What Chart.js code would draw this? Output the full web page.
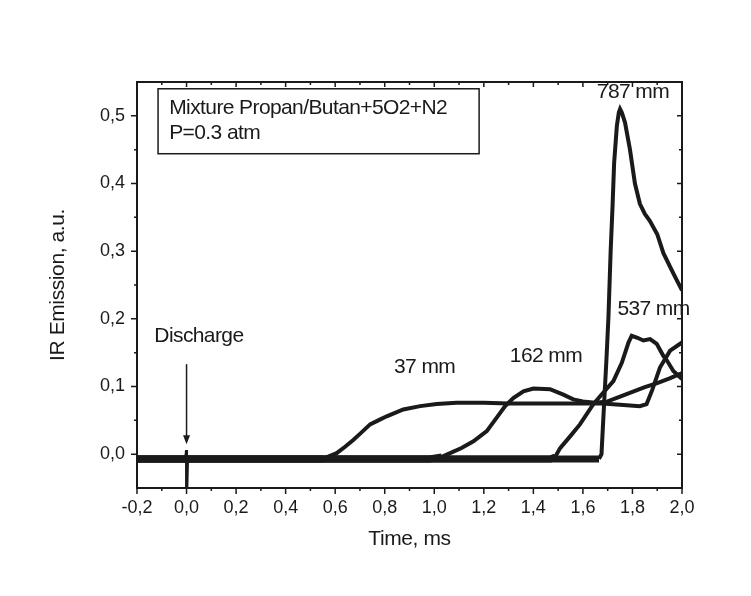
<!DOCTYPE html>
<html>
<head>
<meta charset="utf-8">
<script src="https://cdn.jsdelivr.net/npm/chart.js@4.4.1/dist/chart.umd.min.js"></script>
<style>
  html, body { margin: 0; padding: 0; background: #fff; }
  #wrap { width: 751px; height: 596px; }
</style>
</head>
<body>
<div id="wrap"><canvas id="myChart" width="751" height="596"></canvas></div>
<script>
// IR emission traces, time in ms, emission in a.u.
const time37 = [-0.2, 0.55, 0.606, 0.64, 0.673, 0.70, 0.741, 0.78, 0.808, 0.875, 0.943, 1.01, 1.09, 1.2, 1.3, 1.4, 1.5, 1.6, 1.68, 1.75, 1.83, 1.857, 1.88, 1.911, 1.952, 2.0];
const emission37 = [-0.007, -0.007, 0.0015, 0.011, 0.021, 0.03, 0.044, 0.051, 0.056, 0.066, 0.071, 0.074, 0.076, 0.076, 0.075, 0.075, 0.075, 0.075, 0.075, 0.073, 0.071, 0.074, 0.095, 0.128, 0.153, 0.165];

const time162 = [-0.2, 0.98, 1.03, 1.064, 1.11, 1.158, 1.212, 1.252, 1.286, 1.319, 1.36, 1.40, 1.467, 1.521, 1.561, 1.60, 1.65, 1.70, 1.75, 1.80, 1.85, 1.90, 1.95, 2.0];
const emission162 = [-0.007, -0.007, -0.004, 0.0015, 0.009, 0.019, 0.034, 0.054, 0.071, 0.083, 0.093, 0.097, 0.096, 0.088, 0.081, 0.078, 0.076, 0.078, 0.085, 0.092, 0.099, 0.105, 0.112, 0.12];

const time537 = [-0.2, 1.47, 1.488, 1.508, 1.55, 1.588, 1.642, 1.68, 1.723, 1.757, 1.784, 1.797, 1.82, 1.844, 1.871, 1.898, 1.925, 1.94, 1.965, 2.0];
const emission537 = [-0.007, -0.007, -0.004, 0.009, 0.027, 0.044, 0.074, 0.09, 0.108, 0.135, 0.165, 0.175, 0.172, 0.168, 0.170, 0.163, 0.145, 0.138, 0.123, 0.111];

const time787 = [-0.2, 1.665, 1.675, 1.686, 1.695, 1.703, 1.712, 1.72, 1.726, 1.737, 1.745, 1.75, 1.757, 1.77, 1.79, 1.81, 1.83, 1.85, 1.87, 1.90, 1.925, 1.965, 2.0];
const emission787 = [-0.007, -0.007, 0.0, 0.078, 0.14, 0.202, 0.30, 0.37, 0.43, 0.485, 0.505, 0.51, 0.505, 0.49, 0.45, 0.40, 0.37, 0.355, 0.345, 0.325, 0.297, 0.267, 0.242];

// discharge spike at t = 0
const timeSpike = [-0.004, 0.0, 0.0, 0.004];
const emissionSpike = [-0.007, 0.006, -0.07, -0.007];

const curveNames = ['37 mm', '162 mm', '537 mm', '787 mm'];
const xTicks = [-0.2, 0.0, 0.2, 0.4, 0.6, 0.8, 1.0, 1.2, 1.4, 1.6, 1.8, 2.0];
const yTicks = [0.0, 0.1, 0.2, 0.3, 0.4, 0.5];

const FONT = "'Liberation Sans', Arial, sans-serif";
const INK = '#1a1a1a';

function pts(ts, vs) {
  return ts.map((t, i) => ({ x: t, y: vs[i] }));
}

function comma(v) {
  return (Math.round(v * 100) / 100).toFixed(1).replace('.', ',');
}

const decor = {
  id: 'decor',
  afterDraw(chart) {
    const { ctx, chartArea: a, scales: { x, y } } = chart;
    ctx.save();
    ctx.strokeStyle = INK;
    ctx.fillStyle = INK;

    // frame
    ctx.lineWidth = 2;
    ctx.strokeRect(a.left, a.top, a.right - a.left, a.bottom - a.top);

    // major + minor ticks
    ctx.lineWidth = 1.5;
    ctx.beginPath();
    for (let i = -2; i <= 20; i++) {
      const px = x.getPixelForValue(i / 10);
      const major = i % 2 === 0;
      ctx.moveTo(px, a.bottom); ctx.lineTo(px, a.bottom + (major ? 6 : 3));
      ctx.moveTo(px, a.top); ctx.lineTo(px, a.top + (major ? 5 : 3));
    }
    for (let i = 0; i <= 10; i++) {
      const py = y.getPixelForValue(i / 20);
      const major = i % 2 === 0;
      ctx.moveTo(a.left, py); ctx.lineTo(a.left - (major ? 6 : 3), py);
      ctx.moveTo(a.right, py); ctx.lineTo(a.right - (major ? 5 : 3), py);
    }
    ctx.stroke();

    // legend-like box
    ctx.lineWidth = 1.5;
    const bx0 = x.getPixelForValue(-0.115), bx1 = x.getPixelForValue(1.181);
    const by0 = y.getPixelForValue(0.540), by1 = y.getPixelForValue(0.444);
    ctx.strokeRect(bx0, by0, bx1 - bx0, by1 - by0);

    ctx.letterSpacing = '-0.6px';
    ctx.font = '21px ' + FONT;
    ctx.textAlign = 'left';
    ctx.textBaseline = 'alphabetic';
    ctx.fillText('Mixture Propan/Butan+5O2+N2', x.getPixelForValue(-0.07), y.getPixelForValue(0.5025));
    ctx.fillText('P=0.3 atm', x.getPixelForValue(-0.07), y.getPixelForValue(0.466));

    // curve labels
    ctx.textAlign = 'center';
    ctx.textBaseline = 'middle';
    const anchors = [[0.961, 0.128], [1.451, 0.145], [1.885, 0.214], [1.802, 0.535]];
    curveNames.forEach((name, i) => {
      ctx.fillText(name, x.getPixelForValue(anchors[i][0]), y.getPixelForValue(anchors[i][1]));
    });
    ctx.fillText('Discharge', x.getPixelForValue(0.05), y.getPixelForValue(0.174));

    // arrow to the discharge
    const ax = x.getPixelForValue(0);
    const ay0 = y.getPixelForValue(0.133), tip = y.getPixelForValue(0.0145);
    ctx.lineWidth = 1.5;
    ctx.beginPath();
    ctx.moveTo(ax, ay0); ctx.lineTo(ax, tip - 6);
    ctx.stroke();
    ctx.beginPath();
    ctx.moveTo(ax - 3.5, tip - 9); ctx.lineTo(ax + 3.5, tip - 9); ctx.lineTo(ax, tip);
    ctx.closePath();
    ctx.fill();

    // axis titles
    ctx.font = '21px ' + FONT;
    ctx.letterSpacing = '-0.4px';
    ctx.textAlign = 'center';
    ctx.fillText('Time, ms', (a.left + a.right) / 2, a.bottom + 51);
    ctx.translate(a.left - 79, (a.top + a.bottom) / 2);
    ctx.rotate(-Math.PI / 2);
    ctx.fillText('IR Emission, a.u.', 0, 0);
    ctx.restore();
  }
};

function traceSet(ts, vs, w) {
  return {
    data: pts(ts, vs),
    borderColor: INK,
    borderWidth: w,
    pointRadius: 0,
    tension: 0,
    segment: {
      borderWidth: c => (c.p0.parsed.y < 0 && c.p1.parsed.y < 0) ? 7 : w
    }
  };
}

const ctx = document.getElementById('myChart').getContext('2d');
new Chart(ctx, {
  type: 'line',
  data: {
    datasets: [
      traceSet(time37, emission37, 4),
      traceSet(time162, emission162, 4),
      traceSet(time537, emission537, 4),
      traceSet(time787, emission787, 4),
      { data: pts(timeSpike, emissionSpike), borderColor: INK, borderWidth: 3, pointRadius: 0 }
    ]
  },
  options: {
    responsive: false,
    animation: false,
    layout: { padding: { left: 0, top: 82, right: 69, bottom: 0 } },
    plugins: { legend: { display: false }, tooltip: { enabled: false } },
    scales: {
      x: {
        type: 'linear',
        min: -0.2,
        max: 2.0,
        afterFit: s => { s.height = 108; },
        afterBuildTicks: s => { s.ticks = xTicks.map(v => ({ value: v })); },
        grid: { display: false, drawTicks: false },
        border: { display: false },
        ticks: {
          padding: 9,
          color: INK,
          font: { family: FONT, size: 18 },
          maxRotation: 0,
          autoSkip: false,
          callback: v => comma(v)
        }
      },
      y: {
        type: 'linear',
        min: -0.05,
        max: 0.55,
        afterFit: s => { s.width = 137; },
        afterBuildTicks: s => { s.ticks = yTicks.map(v => ({ value: v })); },
        grid: { display: false, drawTicks: false },
        border: { display: false },
        ticks: {
          padding: 12,
          color: INK,
          font: { family: FONT, size: 18 },
          autoSkip: false,
          callback: v => comma(v)
        }
      }
    }
  },
  plugins: [decor]
});
</script>
</body>
</html>
